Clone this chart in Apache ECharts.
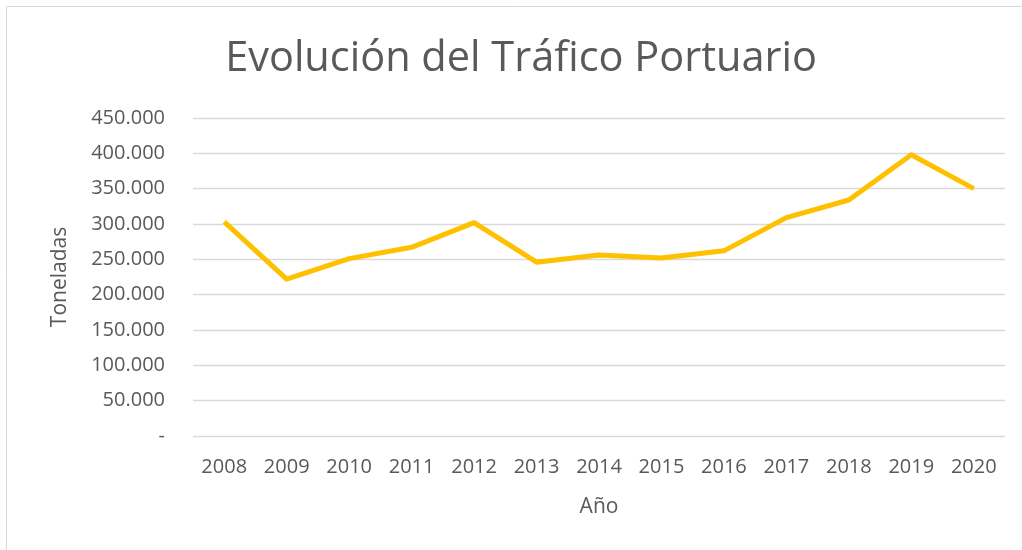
<!DOCTYPE html>
<html>
<head>
<meta charset="utf-8">
<script src="https://cdn.jsdelivr.net/npm/echarts@6/dist/echarts.min.js"></script>
<style>
	html, body { margin: 0; padding: 0; background: #fff; }
	#chart { width: 1022px; height: 550px; }
</style>
</head>
<body>
<div id="chart"></div>
<script>
	// datos
	var years = ['2008', '2009', '2010', '2011', '2012', '2013', '2014', '2015', '2016', '2017', '2018', '2019', '2020']
	var toneladas = [303000, 222000, 251000, 267000, 302000, 246000, 256000, 252000, 262000, 309000, 334000, 398000, 350000]
	var yTicks = [0, 50000, 100000, 150000, 200000, 250000, 300000, 350000, 400000, 450000]

	function fmt(v) {
		if (v === 0) return '-'
		return String(v).replace(/\B(?=(\d{3})+(?!\d))/g, '.')
	}

	var chart = echarts.init(document.getElementById('chart'))
	var font = '"Open Sans", "Noto Sans", sans-serif'
	var option = {
		animation: false,
		textStyle: { fontFamily: font },
		graphic: [{
			type: 'rect',
			shape: { x: 6.5, y: 6.5, width: 1040, height: 580 },
			style: { fill: 'none', stroke: '#d9d9d9', lineWidth: 1 }
		}],
		title: {
			text: 'Evolución del Tráfico Portuario',
			left: 516,
			top: 33,
			textAlign: 'center',
			textStyle: { fontFamily: font, fontSize: 41.5, fontWeight: 'normal', color: '#595959' }
		},
		grid: { left: 193, right: 17, top: 118, bottom: 114 },
		xAxis: {
			type: 'category',
			data: years,
			boundaryGap: true,
			name: 'Año',
			nameLocation: 'middle',
			nameGap: 61,
			nameTextStyle: { fontSize: 21, color: '#595959' },
			axisLine: { show: false },
			axisTick: { show: false },
			axisLabel: { fontSize: 20, color: '#595959', margin: 21 }
		},
		yAxis: {
			type: 'value',
			min: yTicks[0],
			max: yTicks[yTicks.length - 1],
			interval: 50000,
			name: 'Toneladas',
			nameLocation: 'middle',
			nameGap: 122,
			nameTextStyle: { fontSize: 21, color: '#595959' },
			axisLine: { show: false },
			axisTick: { show: false },
			axisLabel: { fontSize: 20, color: '#595959', margin: 28, formatter: fmt },
			splitLine: { lineStyle: { color: '#d9d9d9', width: 1.3 } }
		},
		series: [{
			type: 'line',
			data: toneladas,
			showSymbol: false,
			lineStyle: { color: '#FFC000', width: 5, join: 'round' },
			itemStyle: { color: '#FFC000' }
		}]
	}
	chart.setOption(option)
</script>
</body>
</html>
